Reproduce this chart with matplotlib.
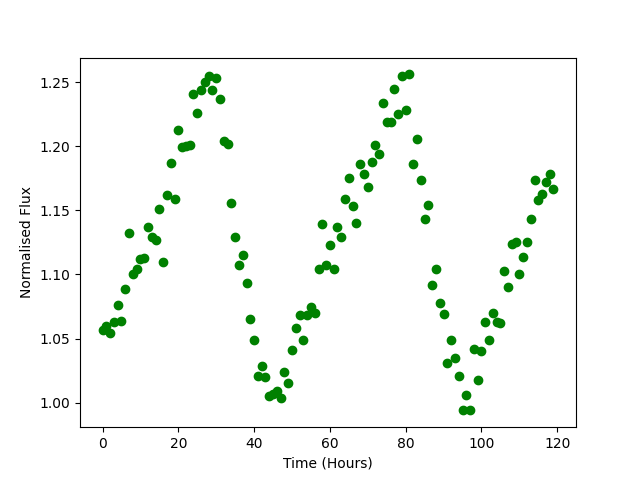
import numpy as np
import matplotlib
matplotlib.use('Agg')
import matplotlib.pyplot as plt

# hourly normalised flux
hours = np.arange(120)
flux = [1.057, 1.060, 1.054, 1.063, 1.076, 1.064, 1.089, 1.132, 1.100, 1.104,
        1.112, 1.113, 1.137, 1.129, 1.127, 1.151, 1.110, 1.162, 1.187, 1.159,
        1.213, 1.199, 1.200, 1.201, 1.241, 1.226, 1.244, 1.250, 1.255, 1.244,
        1.253, 1.237, 1.204, 1.202, 1.156, 1.129, 1.107, 1.115, 1.093, 1.065,
        1.049, 1.021, 1.029, 1.020, 1.005, 1.007, 1.009, 1.004, 1.024, 1.015,
        1.041, 1.058, 1.068, 1.049, 1.068, 1.075, 1.070, 1.104, 1.139, 1.107,
        1.123, 1.104, 1.137, 1.129, 1.159, 1.175, 1.153, 1.140, 1.186, 1.178,
        1.168, 1.188, 1.201, 1.194, 1.234, 1.219, 1.219, 1.245, 1.225, 1.255,
        1.228, 1.256, 1.186, 1.206, 1.174, 1.143, 1.154, 1.092, 1.104, 1.078,
        1.069, 1.031, 1.049, 1.035, 1.021, 0.994, 1.006, 0.994, 1.042, 1.018,
        1.040, 1.063, 1.049, 1.070, 1.063, 1.062, 1.103, 1.090, 1.124, 1.125,
        1.100, 1.114, 1.125, 1.143, 1.174, 1.158, 1.163, 1.172, 1.178, 1.167]

plt.figure(figsize=(6.4, 4.8), dpi=100)
plt.plot(hours, flux, 'go')
plt.xlabel('Time (Hours)')
plt.ylabel('Normalised Flux')
plt.savefig('out.png')
